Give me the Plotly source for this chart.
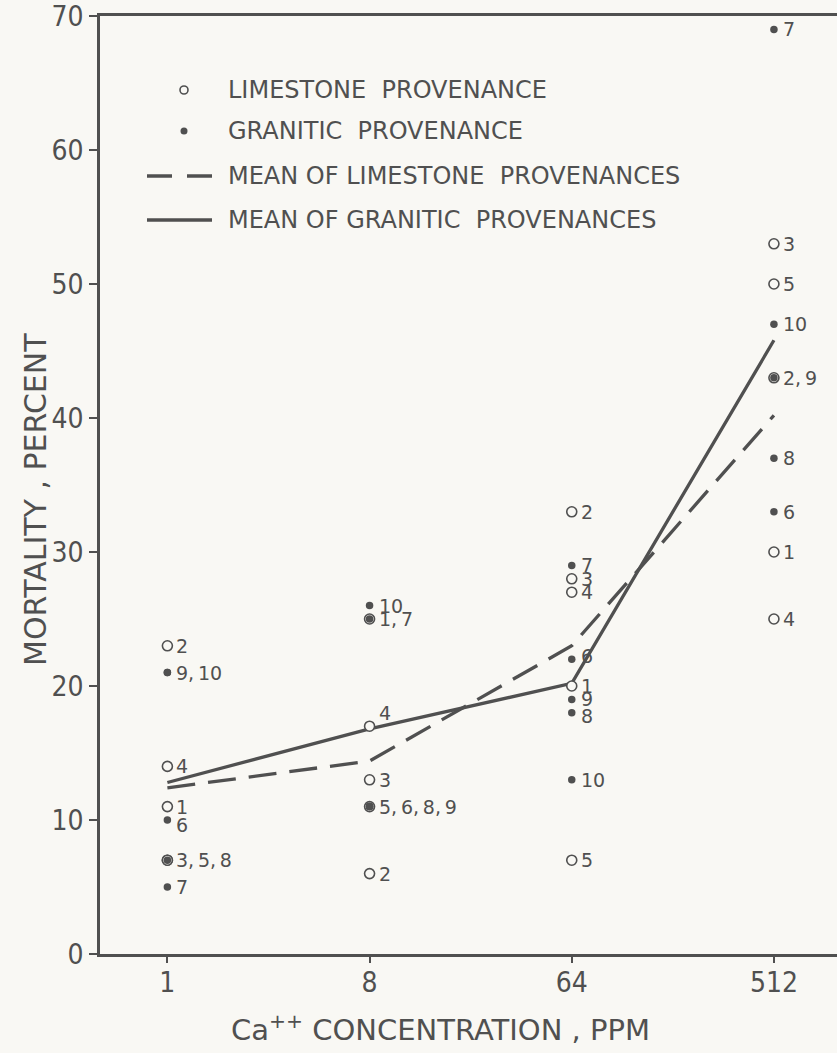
import numpy as np
import plotly.graph_objects as go

# Ca++ concentration (ppm) and tick labels
conc_ppm = [1, 8, 64, 512]
tick_labels = ["1", "8", "64", "512"]

# provenance numbers
limestone_ids = [1, 2, 3, 4, 5]
granitic_ids = [6, 7, 8, 9, 10]

# mortality (%) of each provenance, one row per concentration
limestone_pct = [
    [11, 23, 7, 14, 7],     # 1 ppm
    [25, 6, 13, 17, 11],    # 8 ppm
    [20, 33, 28, 27, 7],    # 64 ppm
    [30, 43, 53, 25, 50],   # 512 ppm
]
granitic_pct = [
    [10, 5, 7, 21, 21],     # 1 ppm
    [11, 25, 11, 11, 26],   # 8 ppm
    [22, 29, 18, 19, 13],   # 64 ppm
    [33, 69, 37, 43, 47],   # 512 ppm
]

INK = "#505050"
BG = "#f9f8f4"
NARROW = "DejaVu Sans Condensed, Liberation Sans Narrow, sans-serif"
WIDE = "DejaVu Sans, Verdana, sans-serif"

# plot-area box in pixels (for placing the hand-drawn key)
W, H = 837, 1053
L, R, T, B = 100, 837, 16, 954
PW, PH = R - L, B - T


def px(x):
    return (x - L) / PW


def py(y):
    return (B - y) / PH


lime_mean = np.mean(limestone_pct, axis=1)
gran_mean = np.mean(granitic_pct, axis=1)

fig = go.Figure()

# mean lines
fig.add_trace(go.Scatter(
    x=conc_ppm, y=lime_mean, mode="lines",
    line=dict(color=INK, width=3.3, dash="28px,13px"), hoverinfo="skip"))
fig.add_trace(go.Scatter(
    x=conc_ppm, y=gran_mean, mode="lines",
    line=dict(color=INK, width=3.3), hoverinfo="skip"))

# individual provenances
xs_l = [c for c, row in zip(conc_ppm, limestone_pct) for _ in row]
ys_l = [v for row in limestone_pct for v in row]
xs_g = [c for c, row in zip(conc_ppm, granitic_pct) for _ in row]
ys_g = [v for row in granitic_pct for v in row]

fig.add_trace(go.Scatter(
    x=xs_l, y=ys_l, mode="markers",
    marker=dict(symbol="circle", size=10, color=BG,
                line=dict(color=INK, width=1.6))))
fig.add_trace(go.Scatter(
    x=xs_g, y=ys_g, mode="markers",
    marker=dict(symbol="circle", size=7.5, color=INK, line=dict(width=0))))

annotations = []

# number labels, provenances sharing a value are listed together
groups = {}
for ci, c in enumerate(conc_ppm):
    for pid, v in zip(limestone_ids, limestone_pct[ci]):
        groups.setdefault((c, v), []).append(pid)
    for pid, v in zip(granitic_ids, granitic_pct[ci]):
        groups.setdefault((c, v), []).append(pid)

label_yshift = {(8, 17): 13, (64, 22): 3, (1, 10): -5, (64, 18): -3}
for (c, v), ids in groups.items():
    annotations.append(dict(
        x=np.log10(c), y=v, xref="x", yref="y",
        text=",\u2009".join(str(i) for i in sorted(ids)),
        xanchor="left", yanchor="middle", showarrow=False,
        xshift=7, yshift=label_yshift.get((c, v), 0),
        font=dict(family=WIDE, size=19, color=INK)))

# key
shapes = []
key_rows = [
    (90, "LIMESTONE\u00a0\u00a0PROVENANCE", "open"),
    (131, "GRANITIC\u00a0\u00a0PROVENANCE", "dot"),
    (176, "MEAN OF LIMESTONE\u00a0\u00a0PROVENANCES", "dash"),
    (220, "MEAN OF GRANITIC\u00a0\u00a0PROVENANCES", "solid"),
]
for ky, txt, kind in key_rows:
    if kind in ("open", "dot"):
        r = 4 if kind == "open" else 3.5
        shapes.append(dict(
            type="circle", xref="paper", yref="paper",
            xsizemode="pixel", ysizemode="pixel",
            xanchor=px(184), yanchor=py(ky), x0=-r, x1=r, y0=-r, y1=r,
            line=dict(color=INK, width=1.6 if kind == "open" else 0),
            fillcolor=BG if kind == "open" else INK))
    else:
        shapes.append(dict(
            type="line", xref="paper", yref="paper",
            x0=px(147), x1=px(212), y0=py(ky), y1=py(ky),
            line=dict(color=INK, width=3.3,
                      dash="25px,15px" if kind == "dash" else "solid")))
    annotations.append(dict(
        text=txt, xref="paper", yref="paper", x=px(226), y=py(ky),
        xanchor="left", yanchor="middle", showarrow=False,
        font=dict(family=WIDE, size=24, color=INK)))

# axis titles
annotations.append(dict(
    text="MORTALITY , PERCENT", xref="paper", yref="paper",
    x=px(35), y=py(500), xanchor="center", yanchor="middle", textangle=-90,
    showarrow=False, font=dict(family=WIDE, size=30, color=INK)))
annotations.append(dict(
    text="Ca<sup>++</sup> CONCENTRATION , PPM", xref="paper", yref="paper",
    x=px(440), y=py(1028), xanchor="center", yanchor="middle",
    showarrow=False, font=dict(family=WIDE, size=29, color=INK)))

fig.update_layout(
    width=W, height=H,
    margin=dict(l=L, r=W - R, t=T, b=H - B, pad=0),
    paper_bgcolor=BG, plot_bgcolor=BG,
    showlegend=False,
    shapes=shapes, annotations=annotations,
    xaxis=dict(
        type="log", range=[np.log10(0.5), 2.991],
        tickvals=conc_ppm, ticktext=tick_labels,
        ticks="outside", ticklen=6, tickwidth=2, tickcolor=INK,
        showline=True, linecolor=INK, linewidth=2.5, mirror=True,
        showgrid=False, zeroline=False, ticklabelstandoff=-4,
        tickfont=dict(family=NARROW, size=28, color=INK)),
    yaxis=dict(
        range=[0, 70], tickvals=list(range(0, 71, 10)),
        ticks="outside", ticklen=8, tickwidth=2, tickcolor=INK,
        showline=True, linecolor=INK, linewidth=2.5,
        showgrid=False, zeroline=False, ticklabeloverflow="allow",
        tickfont=dict(family=NARROW, size=28, color=INK)),
)

fig.write_html("out.html")
